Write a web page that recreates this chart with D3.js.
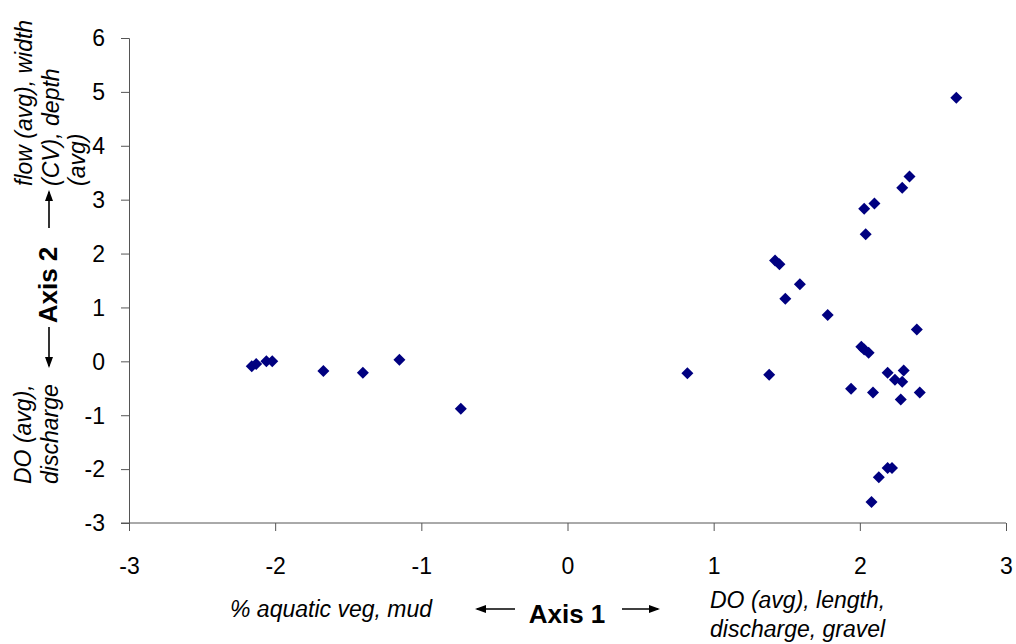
<!DOCTYPE html>
<html>
<head>
<meta charset="utf-8">
<script src="https://cdn.jsdelivr.net/npm/d3@7"></script>
<style>
  body { margin: 0; background: #fff; }
  svg text { font-family: "Liberation Sans", Arial, sans-serif; }
</style>
</head>
<body>
<svg id="chart" width="1016" height="644"></svg>
<script>
// ordination scores
const axis1 = [-2.16, -2.13, -2.06, -2.02, -1.67, -1.40, -1.15, -0.73, 0.82, 1.38,
  1.42, 1.45, 1.59, 1.49, 1.78, 2.01, 2.03, 2.06, 2.19, 2.24, 2.29, 2.30, 1.94,
  2.09, 2.28, 2.39, 2.41, 2.19, 2.22, 2.13, 2.08, 2.66, 2.34, 2.29, 2.10, 2.03, 2.04];
const axis2 = [-0.09, -0.05, 0.00, 0.00, -0.18, -0.21, 0.03, -0.88, -0.22, -0.25,
  1.87, 1.80, 1.43, 1.16, 0.86, 0.27, 0.22, 0.16, -0.21, -0.34, -0.38, -0.17, -0.51,
  -0.58, -0.71, 0.59, -0.58, -1.98, -1.98, -2.15, -2.61, 4.89, 3.43, 3.22, 2.93, 2.83, 2.36];
const xTicks = [-3, -2, -1, 0, 1, 2, 3];
const yTicks = [-3, -2, -1, 0, 1, 2, 3, 4, 5, 6];

const svg = d3.select("#chart");
const x = d3.scaleLinear().domain([-3, 3]).range([129, 1006]);
const y = d3.scaleLinear().domain([-3, 6]).range([523, 38]);
const axisColor = "#555";

//axes, plain hyphen for negatives like the original
const gx = svg.append("g").attr("transform", "translate(0," + y(-3) + ")")
  .call(d3.axisBottom(x).tickValues(xTicks).tickSizeOuter(0).tickSize(8).tickPadding(27).tickFormat(d => String(d)));
const gy = svg.append("g").attr("transform", "translate(" + x(-3) + ",0)")
  .call(d3.axisLeft(y).tickValues(yTicks).tickSizeOuter(0).tickSize(8).tickPadding(16).tickFormat(d => String(d)));
[gx, gy].forEach(g => {
  g.attr("font-size", null).attr("font-family", null);
  g.selectAll("path,line").attr("stroke", axisColor);
  g.selectAll("text").style("font-size", "23px").attr("fill", "#000");
});
gy.selectAll("text").attr("dy", "0.34em");
// x axis line runs out to the y ticks
gx.select(".domain").attr("d", "M" + (x(-3) - 8) + ",0H" + x(3));

//points as small diamonds
const sym = d3.symbol().type(d3.symbolSquare).size(72);
svg.append("g").selectAll("path")
  .data(axis1.map((v, i) => [v, axis2[i]]))
  .join("path")
  .attr("d", sym)
  .attr("transform", d => "translate(" + x(d[0]) + "," + y(d[1]) + ") rotate(45)")
  .attr("fill", "#000080");

//arrow helper
function arrow(x1, y1, x2, y2) {
  svg.append("line").attr("x1", x1).attr("y1", y1).attr("x2", x2).attr("y2", y2)
    .attr("stroke", "#000").attr("stroke-width", 1.6);
  const a = Math.atan2(y2 - y1, x2 - x1), L = 9, W = 4;
  const p = [[x2 + Math.cos(a) * 2, y2 + Math.sin(a) * 2],
    [x2 - Math.cos(a) * L - Math.sin(a) * W, y2 - Math.sin(a) * L + Math.cos(a) * W],
    [x2 - Math.cos(a) * L + Math.sin(a) * W, y2 - Math.sin(a) * L - Math.cos(a) * W]];
  svg.append("path").attr("d", "M" + p.join("L") + "Z").attr("fill", "#000");
}

//x axis titles
svg.append("text").attr("x", 230).attr("y", 617).style("font-size", "23px")
  .attr("font-style", "italic").text("% aquatic veg, mud");
svg.append("text").attr("x", 567).attr("y", 623).attr("text-anchor", "middle")
  .style("font-size", "26px").attr("font-weight", "bold").text("Axis 1");
arrow(515, 609, 477, 609);
arrow(622, 609, 658, 609);
svg.append("text").attr("x", 710).attr("y", 608).style("font-size", "23px")
  .attr("font-style", "italic").text("DO (avg), length,");
svg.append("text").attr("x", 710).attr("y", 637).style("font-size", "23px")
  .attr("font-style", "italic").text("discharge, gravel");

//y axis titles (rotated)
function vtext(tx, ty, str, size, bold, italic, anchor) {
  svg.append("text").attr("transform", "translate(" + tx + "," + ty + ") rotate(-90)")
    .style("font-size", size + "px").attr("text-anchor", anchor || "start")
    .attr("font-weight", bold ? "bold" : "normal")
    .attr("font-style", italic ? "italic" : "normal").text(str);
}
vtext(32, 186, "flow (avg), width", 23, false, true);
vtext(59, 186, "(CV), depth", 23, false, true);
vtext(85, 186, "(avg)", 23, false, true);
arrow(49, 228, 49, 192);
vtext(57, 285, "Axis 2", 26, true, false, "middle");
arrow(49, 327, 49, 366);
vtext(31, 484, "DO (avg),", 23, false, true);
vtext(58, 484, "discharge", 23, false, true);
</script>
</body>
</html>
